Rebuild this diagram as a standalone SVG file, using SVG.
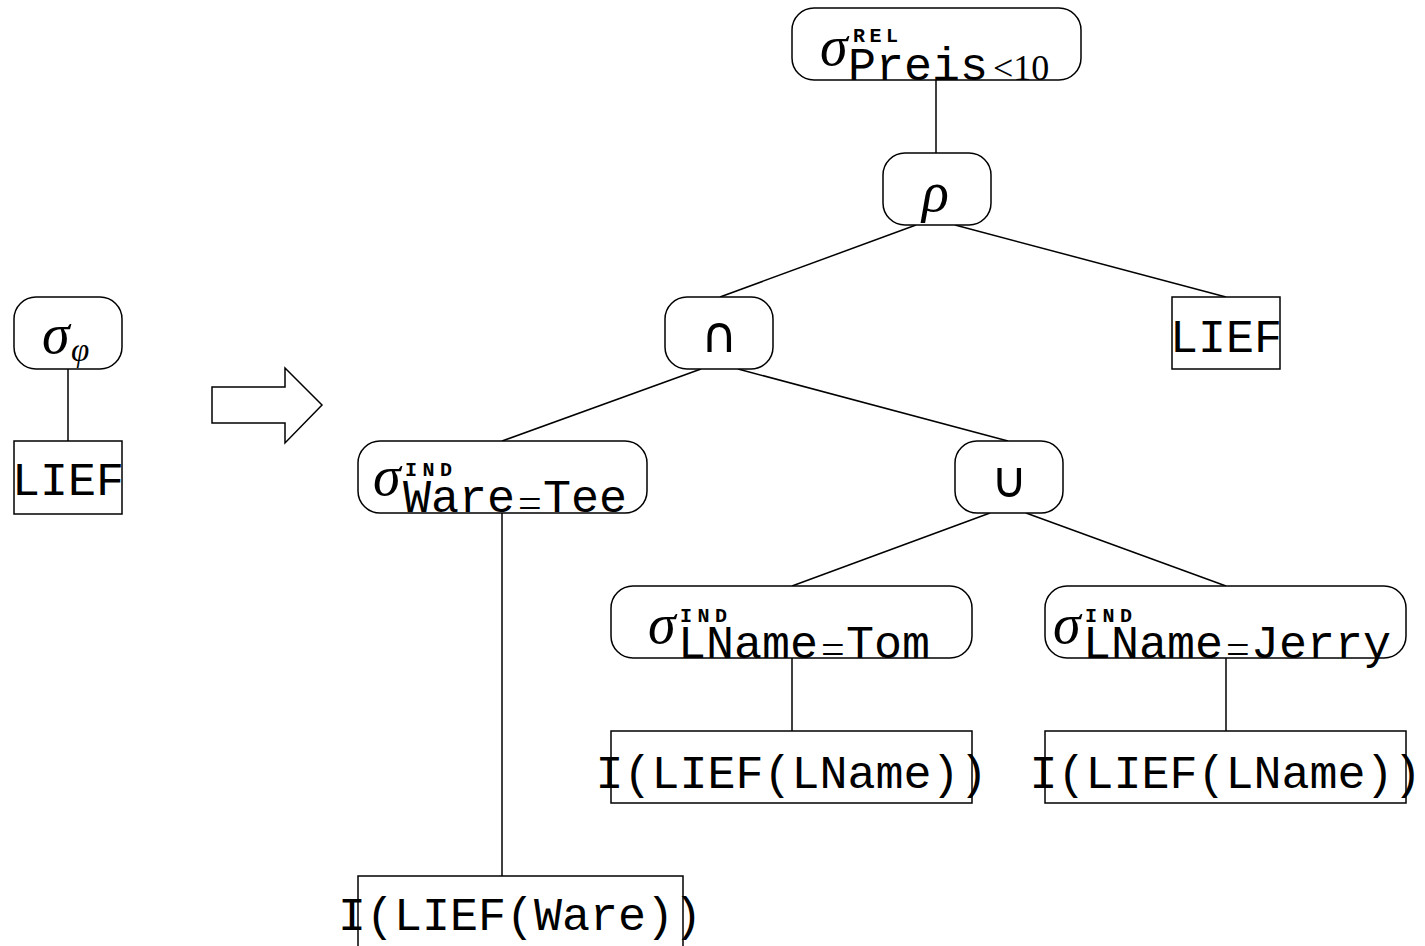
<svg xmlns="http://www.w3.org/2000/svg" width="1425" height="946" viewBox="0 0 1425 946">
<style>
.n{fill:#fff;stroke:#000;stroke-width:1.5}
.e{stroke:#000;stroke-width:1.5;fill:none}
.mono{font-family:"Liberation Mono",monospace;font-size:46.7px}
.sig{font-family:"Liberation Serif",serif;font-style:italic;font-size:56px}
.sup{font-family:"Liberation Mono",monospace;font-weight:bold;font-size:20px}
.ser{font-family:"Liberation Serif",serif}
.op{font-family:"DejaVu Sans",sans-serif;font-size:50px}
.sm{font-family:"Liberation Serif",serif;font-size:42px}
</style>
<rect width="1425" height="946" fill="#fff"/>
<g id="connectors">
<line class="e" x1="936" y1="80" x2="936" y2="153"/>
<line class="e" x1="916" y1="225" x2="720" y2="297"/>
<line class="e" x1="955" y1="225" x2="1226" y2="297"/>
<line class="e" x1="701" y1="369" x2="502" y2="441"/>
<line class="e" x1="738" y1="369" x2="1008" y2="441"/>
<line class="e" x1="502" y1="513" x2="502" y2="876"/>
<line class="e" x1="990" y1="513" x2="792" y2="586"/>
<line class="e" x1="1026" y1="513" x2="1226" y2="586"/>
<line class="e" x1="792" y1="658" x2="792" y2="731"/>
<line class="e" x1="1226" y1="658" x2="1226" y2="731"/>
<line class="e" x1="68" y1="369" x2="68" y2="441"/>
</g>
<g id="arrow">
<polygon class="n" points="212,387 285,387 285,368 322,405 285,443 285,423 212,423"/>
</g>
<g id="sigma-phi">
<rect class="n" x="14" y="297" width="108" height="72" rx="22"/>
<text class="sig" x="42" y="353">σ<tspan class="ser" x="71" y="361" font-size="33">φ</tspan></text>
</g>
<g id="lief-left">
<rect class="n" x="14" y="441" width="108" height="73"/>
<text class="mono" x="68" y="495" text-anchor="middle" font-size="45">LIEF</text>
</g>
<g id="sigma-rel">
<rect class="n" x="792" y="8" width="289" height="72" rx="22"/>
<text x="820" y="65"><tspan class="sig">σ</tspan><tspan class="sup" x="853" y="42" textLength="45">REL</tspan><tspan class="mono" x="848" y="80">Preis</tspan><tspan class="ser" x="993" y="80" font-size="36">&lt;10</tspan></text>
</g>
<g id="rho">
<rect class="n" x="883" y="153" width="108" height="72" rx="22"/>
<text class="sig" x="922" y="211">ρ</text>
</g>
<g id="cap">
<rect class="n" x="665" y="297" width="108" height="72" rx="22"/>
<text class="op" x="719" y="352" text-anchor="middle">∩</text>
</g>
<g id="lief-right">
<rect class="n" x="1172" y="297" width="108" height="72"/>
<text class="mono" x="1226" y="352" text-anchor="middle" font-size="45">LIEF</text>
</g>
<g id="sigma-ware">
<rect class="n" x="358" y="441" width="289" height="72" rx="22"/>
<text x="373" y="495"><tspan class="sig">σ</tspan><tspan class="sup" x="405" y="476" textLength="47">IND</tspan><tspan class="mono" x="403" y="512">Ware</tspan><tspan class="sm" x="518" y="517">=</tspan><tspan class="mono" x="543" y="512">Tee</tspan></text>
</g>
<g id="cup">
<rect class="n" x="955" y="441" width="108" height="72" rx="22"/>
<text class="op" x="1009" y="497" text-anchor="middle">∪</text>
</g>
<g id="sigma-tom">
<rect class="n" x="611" y="586" width="361" height="72" rx="22"/>
<text x="648" y="643"><tspan class="sig">σ</tspan><tspan class="sup" x="680" y="622" textLength="47">IND</tspan><tspan class="mono" x="678" y="658">LName</tspan><tspan class="sm" x="821" y="663">=</tspan><tspan class="mono" x="846" y="658">Tom</tspan></text>
</g>
<g id="sigma-jerry">
<rect class="n" x="1045" y="586" width="361" height="72" rx="22"/>
<text x="1053" y="643"><tspan class="sig">σ</tspan><tspan class="sup" x="1085" y="622" textLength="47">IND</tspan><tspan class="mono" x="1083" y="658">LName</tspan><tspan class="sm" x="1226" y="663">=</tspan><tspan class="mono" x="1251" y="658">Jerry</tspan></text>
</g>
<g id="index-tom">
<rect class="n" x="611" y="731" width="361" height="72"/>
<text class="mono" x="791.5" y="788" text-anchor="middle">I(LIEF(LName))</text>
</g>
<g id="index-jerry">
<rect class="n" x="1045" y="731" width="361" height="72"/>
<text class="mono" x="1225.5" y="788" text-anchor="middle">I(LIEF(LName))</text>
</g>
<g id="index-ware">
<rect class="n" x="358" y="876" width="325" height="80"/>
<text class="mono" x="520" y="930" text-anchor="middle">I(LIEF(Ware))</text>
</g>
</svg>
